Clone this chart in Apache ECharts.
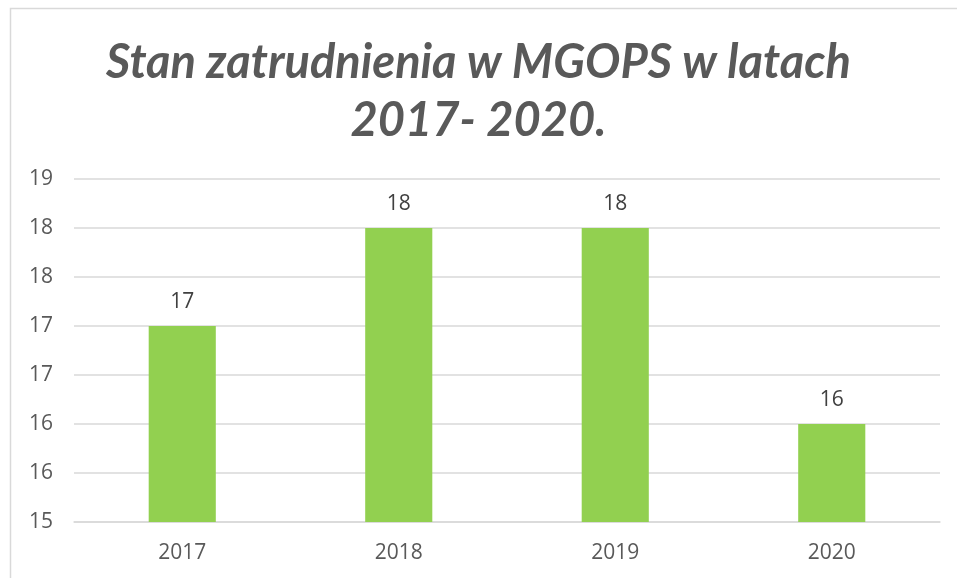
<!DOCTYPE html>
<html><head><meta charset="utf-8">
<script src="https://cdn.jsdelivr.net/npm/echarts@6/dist/echarts.min.js"></script>
<style>html,body{margin:0;padding:0;background:#fff}#c{width:957px;height:578px}</style>
</head><body><div id="c"></div>
<script>
const categories = ['2017', '2018', '2019', '2020'];
const values = [17, 18, 18, 16];
const titleLines = ['Stan zatrudnienia w MGOPS w latach', '2017- 2020.'];

const chart = echarts.init(document.getElementById('c'), null, {renderer: 'canvas'});
chart.setOption({
  animation: false,
  backgroundColor: '#fff',
  title: {
    text: titleLines.join('\n'),
    left: 'center',
    top: 29,
    textStyle: {fontFamily: 'Lato', fontStyle: 'italic', fontWeight: 'bold', fontSize: 47, color: '#595959', lineHeight: 58}
  },
  graphic: [{type: 'rect', shape: {x: 10.5, y: 8.5, width: 960, height: 600}, style: {fill: 'none', stroke: '#d9d9d9', lineWidth: 1.5}, silent: true}],
  grid: {left: 74, right: 17, top: 179, bottom: 56},
  xAxis: {
    type: 'category', data: categories,
    axisLine: {lineStyle: {color: '#d9d9d9', width: 1.5}},
    axisTick: {show: false},
    axisLabel: {color: '#595959', fontSize: 21, fontFamily: 'Open Sans', margin: 21}
  },
  yAxis: {
    type: 'value', min: 15, max: 18.5, interval: 0.5,
    axisLine: {show: false}, axisTick: {show: false},
    splitLine: {lineStyle: {color: '#d9d9d9', width: 1.5}},
    axisLabel: {color: '#595959', fontSize: 21, fontFamily: 'Open Sans', margin: 21, formatter: v => String(Math.round(v))}
  },
  series: [{
    type: 'bar', data: values, barWidth: '31%',
    itemStyle: {color: '#92d050'},
    label: {show: true, position: 'top', distance: 13, color: '#404040', fontSize: 21, fontFamily: 'Open Sans'}
  }]
});
</script></body></html>
